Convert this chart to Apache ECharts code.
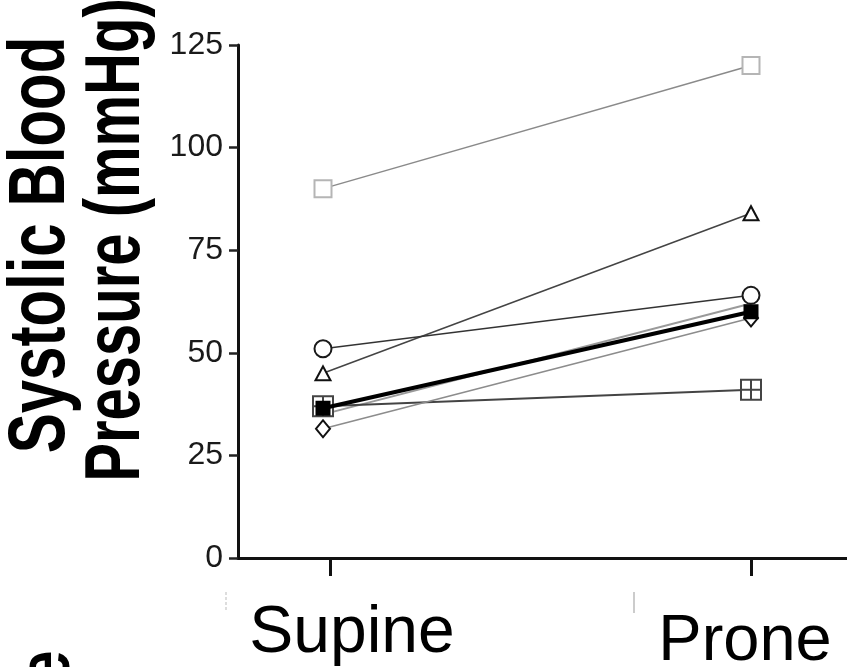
<!DOCTYPE html>
<html>
<head>
<meta charset="utf-8">
<script src="https://cdn.jsdelivr.net/npm/echarts@6/dist/echarts.min.js"></script>
<style>html,body{margin:0;padding:0;background:#fff;}#c{width:847px;height:667px;}</style>
</head>
<body>
<div id="c"></div>
<script>
// ---- data ----
const categories = ['Supine', 'Prone'];
const catPos = [0, 1];
const yTicks = [0, 25, 50, 75, 100, 125];
const subjSquare   = [90, 120];
const subjTriangle = [45, 84];
const subjCircle   = [51, 64];
const subjBoxCross = [37, 41];
const subjFilled   = [36.5, 60];
const subjGray     = [35, 62];
const subjDiamond  = [31.5, 58.5];

const FONT = '"Liberation Sans", Arial, Helvetica, sans-serif';
const pts = v => v.map((y, i) => [catPos[i], y]);
const boxCross = 'path://M0,0L20,0L20,20L0,20Z M10,0L10,20 M0,10L20,10';

function line(name, vals, o) {
  return {
    name, type: 'line', data: pts(vals), symbol: o.symbol, symbolSize: o.size,
    showSymbol: o.symbol !== 'none', z: o.z || 2,
    lineStyle: { color: o.lc, width: o.lw },
    itemStyle: { color: o.fill || '#fff', borderColor: o.mc, borderWidth: o.bw || 2, opacity: 1 },
    emphasis: { disabled: true }, animation: false
  };
}

const chart = echarts.init(document.getElementById('c'), null, { renderer: 'canvas' });
chart.setOption({
  animation: false,
  backgroundColor: '#fff',
  grid: { left: 238, right: 0, top: 45, bottom: 109, containLabel: false, outerBoundsMode: 'none' },
  xAxis: {
    type: 'value', min: -0.1986, max: 1.2243,
    splitLine: { show: false },
    axisLine: { show: true, onZero: false, lineStyle: { color: '#111', width: 3 } },
    axisTick: { show: true, customValues: [0.016, 1], length: 18, lineStyle: { color: '#111', width: 3 } },
    axisLabel: {
      show: true, customValues: catPos, margin: 43, hideOverlap: false,
      formatter: v => (v < 0.5 ? '{s|' + categories[0] + '}' : '{p|' + categories[1] + '}'),
      rich: {
        s: { fontFamily: FONT, fontSize: 66, color: '#000', padding: [0, 0, 0, 58] },
        p: { fontFamily: FONT, fontSize: 65, color: '#000', padding: [9, 12, 0, 0] }
      }
    }
  },
  yAxis: {
    type: 'value', min: 0, max: 125, interval: 25,
    splitLine: { show: false },
    axisLine: { show: true, onZero: false, lineStyle: { color: '#111', width: 3 } },
    axisTick: { show: true, length: 9, lineStyle: { color: '#222', width: 2.5 } },
    axisLabel: { margin: 15, fontFamily: FONT, fontSize: 32, color: '#1a1a1a',
      formatter: v => (yTicks.indexOf(v) >= 0 ? String(v) : '') }
  },
  graphic: [
    { type: 'text', x: 42, y: 245, rotation: Math.PI / 2, scaleY: 1.33,
      style: { text: 'Systolic Blood', font: 'bold 60px ' + FONT, fill: '#000', align: 'center', verticalAlign: 'middle' } },
    { type: 'text', x: 118, y: 240, rotation: Math.PI / 2, scaleY: 1.33,
      style: { text: 'Pressure (mmHg)', font: 'bold 58px ' + FONT, fill: '#000', align: 'center', verticalAlign: 'middle' } },
    { type: 'text', x: 48, y: 667, rotation: Math.PI / 2, scaleY: 1.25,
      style: { text: 'e', font: 'bold 60px ' + FONT, fill: '#000', align: 'center', verticalAlign: 'middle' } },
    { type: 'line', shape: { x1: 226, y1: 592, x2: 226, y2: 611 }, style: { stroke: '#bbb', lineWidth: 1, lineDash: [3, 2] } },
    { type: 'line', shape: { x1: 634, y1: 592, x2: 634, y2: 613 }, style: { stroke: '#999', lineWidth: 1 } }
  ],
  series: [
    line('square', subjSquare, { symbol: 'rect', size: 17, lc: '#8a8a8a', lw: 1.5, mc: '#b5b5b5' }),
    line('triangle', subjTriangle, { symbol: 'triangle', size: [15, 14], lc: '#444', lw: 1.5, mc: '#111' }),
    line('circle', subjCircle, { symbol: 'circle', size: 17, lc: '#333', lw: 1.5, mc: '#1a1a1a' }),
    line('boxcross', subjBoxCross, { symbol: boxCross, size: 20, lc: '#444', lw: 2, mc: '#444', bw: 2, z: 3 }),
    line('gray', subjGray, { symbol: 'none', size: 0, lc: '#9a9a9a', lw: 2, mc: '#999' }),
    line('filled', subjFilled, { symbol: 'rect', size: 13, lc: '#000', lw: 4, mc: '#000', fill: '#000', z: 4 }),
    line('diamond', subjDiamond, { symbol: 'diamond', size: [14, 17], lc: '#8c8c8c', lw: 1.5, mc: '#111', z: 3 })
  ]
});
</script>
</body>
</html>
